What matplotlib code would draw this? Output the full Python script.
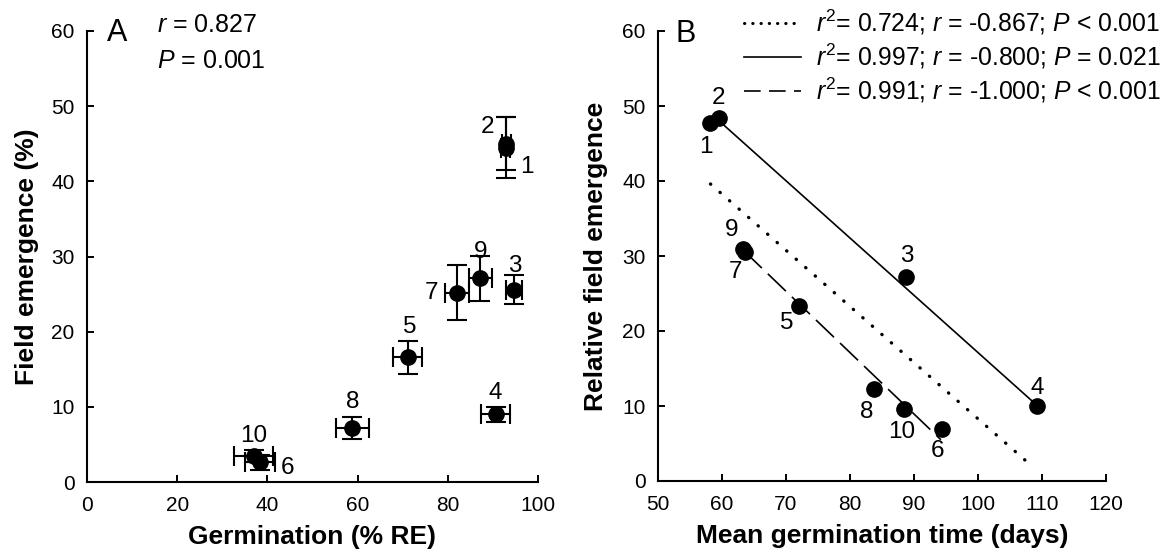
import matplotlib
matplotlib.use('Agg')
import matplotlib.pyplot as plt
from matplotlib.lines import Line2D

plt.rcParams['font.family'] = ['Liberation Sans', 'DejaVu Sans']
plt.rcParams['mathtext.fontset'] = 'custom'
plt.rcParams['mathtext.rm'] = 'Liberation Sans'
plt.rcParams['mathtext.it'] = 'Liberation Sans:italic'

# panel A: germination vs field emergence, with errors
a_labels = ['1', '2', '3', '4', '5', '6', '7', '8', '9', '10']
a_germ = [92.9, 93.0, 94.6, 90.6, 71.1, 38.3, 82.0, 58.8, 87.2, 37.0]
a_germ_err = [1.0, 1.0, 1.8, 3.3, 3.2, 3.3, 2.7, 3.7, 2.5, 4.3]
a_field = [44.5, 45.0, 25.6, 9.0, 16.6, 2.6, 25.2, 7.2, 27.1, 3.4]
a_field_err = [4.0, 3.5, 1.9, 1.0, 2.2, 1.0, 3.7, 1.45, 3.0, 0.8]
# label offsets (pixels) for the point numbers
a_lab_dx = [21, -19, 1, 0, 2, 28, -25, 0, 0, 0]
a_lab_dy = [-19, 17, 24, 21, 30, -6, 0, 26, 26, 20]

# panel B: mean germination time vs relative field emergence
b_labels = ['1', '2', '3', '4', '5', '6', '7', '8', '9', '10']
b_mgt = [58.1, 59.5, 88.8, 109.2, 72.1, 94.4, 63.6, 83.8, 63.3, 88.4]
b_rfe = [47.7, 48.4, 27.2, 10.0, 23.3, 6.9, 30.6, 12.3, 31.0, 9.6]
b_lab_dx = [-4, 0, 0, 0, -13, -5, -10, -8, -11, -2]
b_lab_dy = [-24, 20, 21, 18, -17, -22, -20, -23, 18, -23]

# regression lines (end points)
fit_x = {'all': [58.2, 108.4], 'g1': [59.7, 108.8], 'g2': [63.4, 94.2]}
fit_y = {'all': [39.6, 2.0], 'g1': [47.9, 10.4], 'g2': [30.7, 5.5]}
fit_text = [r'$r^2$= 0.724; $r$ = -0.867; $P$ < 0.001',
            r'$r^2$= 0.997; $r$ = -0.800; $P$ = 0.021',
            r'$r^2$= 0.991; $r$ = -1.000; $P$ < 0.001']

W, H = 1173, 558
fig = plt.figure(figsize=(W / 100, H / 100), dpi=100)


def style_axes(ax):
    for s in ['top', 'right']:
        ax.spines[s].set_visible(False)
    for s in ['left', 'bottom']:
        ax.spines[s].set_linewidth(1.5)
    ax.tick_params(axis='y', direction='in', length=5, width=1.4,
                   labelsize=15, pad=9)
    ax.tick_params(axis='x', direction='in', length=5, width=1.4,
                   labelsize=15, pad=10)


axA = fig.add_axes([87 / W, 1 - 482 / H, (538 - 87) / W, (482 - 31) / H])
style_axes(axA)
axA.errorbar(a_germ, a_field, xerr=a_germ_err, yerr=a_field_err, fmt='o',
             color='black', ms=11, elinewidth=1.5, capsize=7, capthick=1.5,
             clip_on=False)
for lab, x, y, dx, dy in zip(a_labels, a_germ, a_field, a_lab_dx, a_lab_dy):
    axA.annotate(lab, (x, y), xytext=(dx, dy), textcoords='offset pixels',
                 ha='center', va='center', fontsize=17.5)
axA.set_xlim(0, 100)
axA.set_ylim(0, 60)
axA.set_xticks(range(0, 101, 20))
axA.set_yticks(range(0, 61, 10))
axA.set_xlabel('Germination (% RE)', fontsize=19, fontweight='bold',
               labelpad=7)
axA.set_ylabel('Field emergence (%)', fontsize=19, fontweight='bold',
               labelpad=9)
fig.text(117 / W, 1 - 33 / H, 'A', fontsize=22, ha='center', va='center')
fig.text(157 / W, 1 - 25 / H, r'$r$ = 0.827', fontsize=18, va='center')
fig.text(157 / W, 1 - 61 / H, r'$P$ = 0.001', fontsize=18, va='center')

axB = fig.add_axes([658 / W, 1 - 481 / H, (1106 - 658) / W, (481 - 31) / H])
style_axes(axB)
axB.plot(fit_x['all'], fit_y['all'], color='black', lw=2.4,
         linestyle=(0, (0.1, 3.7)), dash_capstyle='round')
axB.plot(fit_x['g1'], fit_y['g1'], color='black', lw=1.2)
axB.plot(fit_x['g2'], fit_y['g2'], color='black', lw=1.2,
         linestyle=(0, (15, 5)))
axB.plot(b_mgt, b_rfe, 'o', color='black', ms=11, clip_on=False)
for lab, x, y, dx, dy in zip(b_labels, b_mgt, b_rfe, b_lab_dx, b_lab_dy):
    axB.annotate(lab, (x, y), xytext=(dx, dy), textcoords='offset pixels',
                 ha='center', va='center', fontsize=17.5)
axB.set_xlim(50, 120)
axB.set_ylim(0, 60)
axB.set_xticks(range(50, 121, 10))
axB.set_yticks(range(0, 61, 10))
axB.set_xlabel('Mean germination time (days)', fontsize=19,
               fontweight='bold', labelpad=7)
axB.set_ylabel('Relative field emergence', fontsize=19, fontweight='bold',
               labelpad=10)
fig.text(686 / W, 1 - 34 / H, 'B', fontsize=22, ha='center', va='center')

handles = [Line2D([], [], color='black', lw=2.2, linestyle=(0, (0.1, 2.6)),
                  dash_capstyle='round'),
           Line2D([], [], color='black', lw=1.2),
           Line2D([], [], color='black', lw=1.2, linestyle=(0, (10, 5)))]
fig.legend(handles, fit_text, loc='upper left',
           bbox_to_anchor=(744 / W, 1 - 8 / H), frameon=False, fontsize=17.8,
           handlelength=2.3, handletextpad=0.6, labelspacing=0.18,
           borderpad=0, borderaxespad=0)

fig.savefig('out.png', dpi=100)
